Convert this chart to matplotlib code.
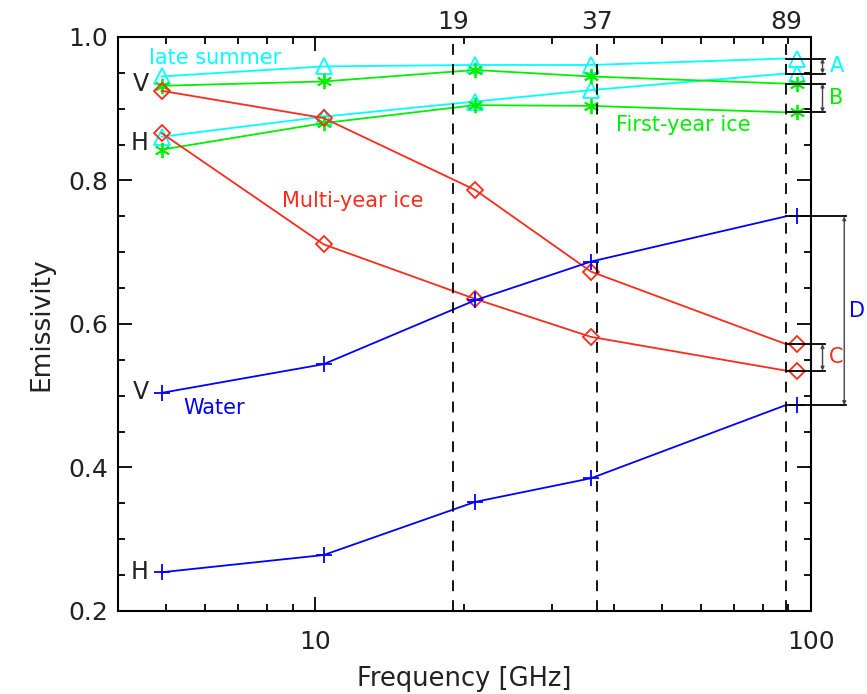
import numpy as np
import matplotlib
matplotlib.use('Agg')
import matplotlib.pyplot as plt
from matplotlib.ticker import FixedLocator, NullFormatter

# line vertices and symbol positions (the last line point ends on the 89 GHz channel)
line_freq = [4.9, 10.4, 21.0, 36.0, 89.0]
mark_freq = [4.9, 10.4, 21.0, 36.0, 93.5]
channels = [19, 37, 89]

# emissivities, V and H polarisation
late_v = [0.945, 0.959, 0.961, 0.961, 0.970]
late_h = [0.861, 0.889, 0.910, 0.926, 0.949]
fyi_v = [0.932, 0.938, 0.954, 0.945, 0.935]
fyi_h = [0.843, 0.880, 0.905, 0.904, 0.895]
myi_v = [0.925, 0.887, 0.787, 0.673, 0.572]
myi_h = [0.866, 0.711, 0.635, 0.582, 0.535]
water_v = [0.504, 0.544, 0.633, 0.687, 0.750]
water_h = [0.254, 0.278, 0.352, 0.385, 0.487]

cyan = '#00ffff'
green = '#00f000'
red = '#ff2a1a'
blue = '#0000ff'
txt = '#222222'

fig = plt.figure(figsize=(8.67, 6.94), dpi=100)
ax = fig.add_axes([0.136, 0.1196, 0.7994, 0.8271])

series = [(late_v, cyan, '^', 12), (late_h, cyan, '^', 12),
          (fyi_v, green, (6, 2, 0), 11), (fyi_h, green, (6, 2, 0), 11),
          (myi_v, red, 'D', 8), (myi_h, red, 'D', 8),
          (water_v, blue, '+', 12), (water_h, blue, '+', 12)]
for vals, c, m, ms in series:
    ax.plot(line_freq, vals, color=c, lw=1.3)
    ax.plot(mark_freq, vals, ls='none', marker=m, ms=ms, mfc='none',
            mec=c, mew=1.3, clip_on=False)

for f in channels:
    ax.axvline(f, color='black', lw=1.3, ls=(0, (6, 5)))
    ax.text(f, 1.005, str(f), transform=ax.get_xaxis_transform(),
            ha='center', va='bottom', fontsize=18, color=txt)

ax.set_xscale('log')
ax.set_xlim(4, 100)
ax.set_ylim(0.2, 1.0)
ax.xaxis.set_major_locator(FixedLocator([10, 100]))
ax.xaxis.set_minor_locator(FixedLocator([5, 6, 7, 8, 9, 20, 30, 40, 50, 60, 70, 80, 90]))
ax.xaxis.set_minor_formatter(NullFormatter())
ax.set_xticklabels(['10', '100'])
ax.set_yticks([0.2, 0.4, 0.6, 0.8, 1.0])
ax.set_yticklabels(['0.2', '0.4', '0.6', '0.8', '1.0'])
ax.yaxis.set_minor_locator(FixedLocator(np.arange(0.25, 1.0, 0.05)))
ax.tick_params(which='both', direction='in', top=True, right=True,
               colors='black', labelcolor=txt, labelsize=18, width=1.3)
ax.tick_params(which='major', length=10)
ax.tick_params(which='minor', length=5)
ax.tick_params(axis='x', which='major', pad=14)
ax.tick_params(axis='y', which='major', pad=7)
for s in ax.spines.values():
    s.set_linewidth(1.5)

ax.set_xlabel('Frequency [GHz]', fontsize=18.5, color=txt, labelpad=8)
ax.set_ylabel('Emissivity', fontsize=19, color=txt, labelpad=10)

# curve labels
ax.text(4.62, 0.971, 'late summer', color=cyan, fontsize=15, va='center')
ax.text(8.58, 0.771, 'Multi-year ice', color=red, fontsize=15, va='center')
ax.text(5.43, 0.483, 'Water', color=blue, fontsize=15, va='center')
ax.text(40.5, 0.877, 'First-year ice', color=green, fontsize=15, va='center')
for y, lab in [(0.935, 'V'), (0.852, 'H'), (0.505, 'V'), (0.254, 'H')]:
    ax.text(4.62, y, lab, color=txt, fontsize=17, ha='right', va='center')

# range brackets at 89 GHz
brackets = [(late_v, late_h, cyan, 'A', 106.5, 105.5, 109.0),
            (fyi_v, fyi_h, green, 'B', 106.5, 105.5, 108.5),
            (myi_v, myi_h, red, 'C', 106.5, 105.5, 108.5),
            (water_v, water_h, blue, 'D', 117.5, 116.7, 119.3)]
for v, h, c, lab, xe, xa, xt in brackets:
    for y in (v[-1], h[-1]):
        ax.plot([89.0, xe], [y, y], color='black', lw=1.3, clip_on=False)
    ax.annotate('', xy=(xa, v[-1]), xytext=(xa, h[-1]),
                arrowprops=dict(arrowstyle='<|-|>', color='#444444', lw=1.0,
                                mutation_scale=5, shrinkA=0, shrinkB=0),
                annotation_clip=False)
    ax.text(xt, (v[-1] + h[-1]) / 2, lab, color=c, fontsize=15,
            va='center', ha='left', clip_on=False)

plt.savefig('out.png', dpi=100)
